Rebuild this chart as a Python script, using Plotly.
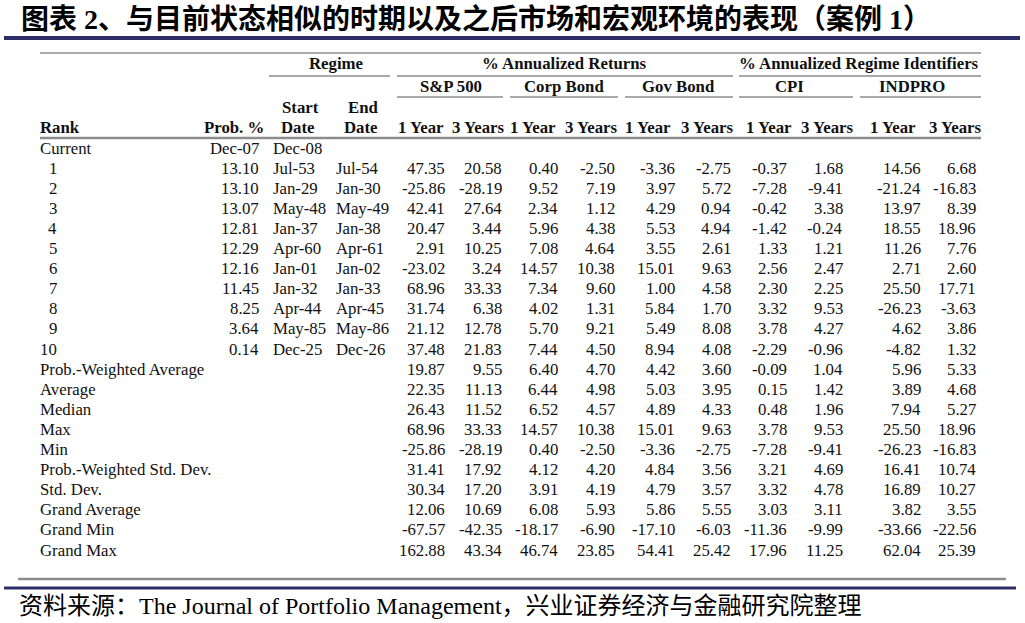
import plotly.graph_objects as go

# ---- data -------------------------------------------------------------
title = "图表 2、与目前状态相似的时期以及之后市场和宏观环境的表现（案例 1）"
source = "资料来源：The Journal of Portfolio Management，兴业证券经济与金融研究院整理"

row_labels = ["Current", "1", "2", "3", "4", "5", "6", "7", "8", "9", "10",
              "Prob.-Weighted Average", "Average", "Median", "Max", "Min",
              "Prob.-Weighted Std. Dev.", "Std. Dev.", "Grand Average",
              "Grand Min", "Grand Max"]

current_start = "Dec-07"
current_end = "Dec-08"
prob = [13.10, 13.10, 13.07, 12.81, 12.29, 12.16, 11.45, 8.25, 3.64, 0.14]
start_dates = ["Jul-53", "Jan-29", "May-48", "Jan-37", "Apr-60", "Jan-01",
               "Jan-32", "Apr-44", "May-85", "Dec-25"]
end_dates = ["Jul-54", "Jan-30", "May-49", "Jan-38", "Apr-61", "Jan-02",
             "Jan-33", "Apr-45", "May-86", "Dec-26"]

# rows 1-10 then the ten summary rows
sp500_1y = [47.35, -25.86, 42.41, 20.47, 2.91, -23.02, 68.96, 31.74, 21.12, 37.48,
            19.87, 22.35, 26.43, 68.96, -25.86, 31.41, 30.34, 12.06, -67.57, 162.88]
sp500_3y = [20.58, -28.19, 27.64, 3.44, 10.25, 3.24, 33.33, 6.38, 12.78, 21.83,
            9.55, 11.13, 11.52, 33.33, -28.19, 17.92, 17.20, 10.69, -42.35, 43.34]
corp_1y = [0.40, 9.52, 2.34, 5.96, 7.08, 14.57, 7.34, 4.02, 5.70, 7.44,
           6.40, 6.44, 6.52, 14.57, 0.40, 4.12, 3.91, 6.08, -18.17, 46.74]
corp_3y = [-2.50, 7.19, 1.12, 4.38, 4.64, 10.38, 9.60, 1.31, 9.21, 4.50,
           4.70, 4.98, 4.57, 10.38, -2.50, 4.20, 4.19, 5.93, -6.90, 23.85]
gov_1y = [-3.36, 3.97, 4.29, 5.53, 3.55, 15.01, 1.00, 5.84, 5.49, 8.94,
          4.42, 5.03, 4.89, 15.01, -3.36, 4.84, 4.79, 5.86, -17.10, 54.41]
gov_3y = [-2.75, 5.72, 0.94, 4.94, 2.61, 9.63, 4.58, 1.70, 8.08, 4.08,
          3.60, 3.95, 4.33, 9.63, -2.75, 3.56, 3.57, 5.55, -6.03, 25.42]
cpi_1y = [-0.37, -7.28, -0.42, -1.42, 1.33, 2.56, 2.30, 3.32, 3.78, -2.29,
          -0.09, 0.15, 0.48, 3.78, -7.28, 3.21, 3.32, 3.03, -11.36, 17.96]
cpi_3y = [1.68, -9.41, 3.38, -0.24, 1.21, 2.47, 2.25, 9.53, 4.27, -0.96,
          1.04, 1.42, 1.96, 9.53, -9.41, 4.69, 4.78, 3.11, -9.99, 11.25]
indpro_1y = [14.56, -21.24, 13.97, 18.55, 11.26, 2.71, 25.50, -26.23, 4.62, -4.82,
             5.96, 3.89, 7.94, 25.50, -26.23, 16.41, 16.89, 3.82, -33.66, 62.04]
indpro_3y = [6.68, -16.83, 8.39, 18.96, 7.76, 2.60, 17.71, -3.63, 3.86, 1.32,
             5.33, 4.68, 5.27, 18.96, -16.83, 10.74, 10.27, 3.55, -22.56, 25.39]

value_cols = [sp500_1y, sp500_3y, corp_1y, corp_3y, gov_1y, gov_3y,
              cpi_1y, cpi_3y, indpro_1y, indpro_3y]
sub_headers = ["1 Year", "3 Years"] * 5

# ---- layout constants (page pixel coords) -----------------------------
W, H = 1025, 623
SERIF = "Liberation Serif, Times New Roman, Noto Sans CJK SC, serif"
INK = "#111111"
GREY = "#8c8c8c"
NAVY = "#2d2e68"
FS = 16.8

ROW0, ROW_STEP = 148, 20.1
value_right = [444, 501, 557, 614, 674, 730, 786, 842, 920, 975]
sub_centers = [420.5, 478.5, 533, 591.5, 648, 707.5, 769, 827.5, 892.5, 955]

anns = []


def cell(x, y, text, anchor="right", bold=False, size=FS):
    # annotation boxes keep a couple of px inside; nudge so the ink edge hits x
    if anchor == "left":
        x -= 2
    elif anchor == "right":
        x += 2
    anns.append(dict(x=x, y=y, xref="x", yref="y", text=text, showarrow=False,
                     xanchor=anchor, yanchor="middle", borderpad=0,
                     font=dict(family=SERIF, size=size, color=INK,
                               weight="bold" if bold else "normal")))


# header rows
cell(336, 63, "Regime", "center", True)
cell(564.5, 63, "% Annualized Returns", "center", True)
cell(859, 63, "% Annualized Regime Identifiers", "center", True)
for name, cx in [("S&P 500", 451), ("Corp Bond", 564), ("Gov Bond", 678),
                 ("CPI", 789), ("INDPRO", 912)]:
    cell(cx, 86, name, "center", True)
cell(300, 107, "Start", "center", True)
cell(363, 107, "End", "center", True)
cell(41, 127, "Rank", "left", True)
cell(263, 127, "Prob. %", "right", True)
cell(298, 127, "Date", "center", True)
cell(361, 127, "Date", "center", True)
for txt, cx in zip(sub_headers, sub_centers):
    cell(cx, 127, txt, "center", True)

# body
for i, lab in enumerate(row_labels):
    y = ROW0 + i * ROW_STEP
    if lab.isdigit():
        cell(56, y, lab, "right")
    else:
        cell(41, y, lab, "left")

cell(258, ROW0, current_start, "right")
cell(274, ROW0, current_end, "left")
for i in range(len(prob)):
    y = ROW0 + (i + 1) * ROW_STEP
    cell(258, y, f"{prob[i]:.2f}", "right")
    cell(274, y, start_dates[i], "left")
    cell(337, y, end_dates[i], "left")

for col, xr in zip(value_cols, value_right):
    for i, v in enumerate(col):
        cell(xr, ROW0 + (i + 1) * ROW_STEP, f"{v:.2f}", "right")

# title and source
anns.append(dict(x=20, y=19, xref="x", yref="y", text=title, showarrow=False,
                 xanchor="left", yanchor="middle", borderpad=0,
                 font=dict(family="Liberation Serif, Noto Sans CJK SC", size=28,
                           color="#000000", weight="bold")))
anns.append(dict(x=18, y=606, xref="x", yref="y", text=source, showarrow=False,
                 xanchor="left", yanchor="middle", borderpad=0,
                 font=dict(family="Liberation Serif, Noto Sans CJK SC", size=24,
                           color="#000000")))

# rules
shapes = []


def rule(x0, x1, y, color=GREY, w=1.5):
    shapes.append(dict(type="line", xref="x", yref="y", x0=x0, x1=x1, y0=y, y1=y,
                       line=dict(color=color, width=w)))


rule(4, 1020, 38, NAVY, 4)
rule(40, 981, 53, GREY, 1.5)
rule(269, 390, 76)
rule(397, 733, 76)
rule(739, 981, 76)
for x0, x1 in [(397, 503), (510, 618), (625, 733), (739, 853), (860, 981)]:
    rule(x0, x1, 97)
rule(40, 981, 138, GREY, 2.5)
rule(18, 1006, 579, GREY, 2.5)
rule(4, 1016, 588, NAVY, 3)

fig = go.Figure()
fig.add_trace(go.Scatter(x=[1, W - 1], y=[1, H - 1], mode="markers",
                         marker=dict(opacity=0), hoverinfo="skip", showlegend=False))
fig.update_xaxes(range=[0, W], visible=False, fixedrange=True)
fig.update_yaxes(range=[H, 0], visible=False, fixedrange=True)
fig.update_layout(width=W, height=H, margin=dict(l=0, r=0, t=0, b=0),
                  paper_bgcolor="white", plot_bgcolor="white",
                  annotations=anns, shapes=shapes)

# drop the page's default 8px body margin so the figure sits at 0,0
fig.write_html("out.html", config={"displayModeBar": False},
               post_script="document.body.style.margin='0';"
                           "document.body.style.overflow='hidden';")
